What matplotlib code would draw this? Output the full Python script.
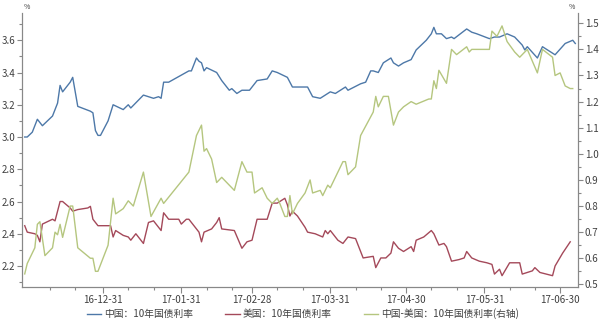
import matplotlib
matplotlib.use("Agg")
import matplotlib.pyplot as plt
import matplotlib.dates as mdates
import pandas as pd

plt.rcParams['font.family'] = ['Noto Sans CJK SC', 'DejaVu Sans']

# 中国：10年国债利率
cn_dates = ["2016-11-30", "2016-12-01", "2016-12-03", "2016-12-05", "2016-12-07", "2016-12-11",
            "2016-12-13", "2016-12-14", "2016-12-15", "2016-12-18", "2016-12-19", "2016-12-21",
            "2016-12-26", "2016-12-27", "2016-12-28", "2016-12-29", "2016-12-30", "2017-01-02",
            "2017-01-04", "2017-01-08", "2017-01-10", "2017-01-11", "2017-01-16", "2017-01-20",
            "2017-01-22", "2017-01-23", "2017-01-24", "2017-01-26", "2017-02-03", "2017-02-04",
            "2017-02-06", "2017-02-07", "2017-02-08", "2017-02-09", "2017-02-10", "2017-02-14",
            "2017-02-16", "2017-02-19", "2017-02-20", "2017-02-22", "2017-02-24", "2017-02-27",
            "2017-03-02", "2017-03-06", "2017-03-08", "2017-03-10", "2017-03-14", "2017-03-16",
            "2017-03-22", "2017-03-24", "2017-03-27", "2017-03-31", "2017-04-02", "2017-04-06",
            "2017-04-07", "2017-04-12", "2017-04-14", "2017-04-16", "2017-04-17", "2017-04-19",
            "2017-04-21", "2017-04-24", "2017-04-25", "2017-04-27", "2017-04-29", "2017-05-02",
            "2017-05-04", "2017-05-08", "2017-05-10", "2017-05-11", "2017-05-12", "2017-05-14",
            "2017-05-16", "2017-05-18", "2017-05-19", "2017-05-24", "2017-05-26", "2017-05-28",
            "2017-06-02", "2017-06-04", "2017-06-06", "2017-06-09", "2017-06-12", "2017-06-15",
            "2017-06-16", "2017-06-17", "2017-06-21", "2017-06-23", "2017-06-28", "2017-07-02",
            "2017-07-05", "2017-07-06"]
cn_rate = [3.00, 3.00, 3.03, 3.11, 3.07, 3.13,
           3.21, 3.32, 3.28, 3.34, 3.37, 3.19,
           3.16, 3.15, 3.04, 3.01, 3.01, 3.10,
           3.20, 3.17, 3.20, 3.18, 3.26, 3.24,
           3.25, 3.24, 3.34, 3.34, 3.41, 3.41,
           3.49, 3.47, 3.46, 3.41, 3.43, 3.40,
           3.35, 3.29, 3.30, 3.27, 3.29, 3.29,
           3.35, 3.36, 3.41, 3.40, 3.37, 3.31,
           3.31, 3.25, 3.24, 3.28, 3.27, 3.31,
           3.29, 3.33, 3.34, 3.41, 3.41, 3.40,
           3.46, 3.49, 3.46, 3.44, 3.46, 3.48,
           3.54, 3.60, 3.64, 3.68, 3.64, 3.64,
           3.61, 3.62, 3.61, 3.67, 3.65, 3.64,
           3.61, 3.62, 3.62, 3.64, 3.62, 3.57,
           3.54, 3.56, 3.49, 3.56, 3.51, 3.58,
           3.60, 3.58]

# 美国：10年国债利率
us_dates = ["2016-11-30", "2016-12-01", "2016-12-04", "2016-12-05", "2016-12-06", "2016-12-07",
            "2016-12-11", "2016-12-12", "2016-12-14", "2016-12-15", "2016-12-18", "2016-12-19",
            "2016-12-21", "2016-12-25", "2016-12-26", "2016-12-27", "2016-12-29", "2017-01-02",
            "2017-01-03", "2017-01-04", "2017-01-05", "2017-01-08", "2017-01-10", "2017-01-11",
            "2017-01-13", "2017-01-16", "2017-01-18", "2017-01-20", "2017-01-23", "2017-01-24",
            "2017-01-26", "2017-01-30", "2017-01-31", "2017-02-02", "2017-02-03", "2017-02-05",
            "2017-02-07", "2017-02-08", "2017-02-09", "2017-02-12", "2017-02-14", "2017-02-15",
            "2017-02-16", "2017-02-21", "2017-02-24", "2017-02-26", "2017-02-28", "2017-03-02",
            "2017-03-06", "2017-03-08", "2017-03-10", "2017-03-13", "2017-03-14", "2017-03-15",
            "2017-03-16", "2017-03-18", "2017-03-21", "2017-03-22", "2017-03-25", "2017-03-28",
            "2017-03-29", "2017-03-30", "2017-03-31", "2017-04-03", "2017-04-05", "2017-04-07",
            "2017-04-10", "2017-04-13", "2017-04-17", "2017-04-18", "2017-04-20", "2017-04-22",
            "2017-04-24", "2017-04-25", "2017-04-27", "2017-04-29", "2017-05-02", "2017-05-03",
            "2017-05-04", "2017-05-07", "2017-05-10", "2017-05-11", "2017-05-13", "2017-05-15",
            "2017-05-16", "2017-05-18", "2017-05-21", "2017-05-23", "2017-05-24", "2017-05-26",
            "2017-05-29", "2017-06-01", "2017-06-03", "2017-06-04", "2017-06-06", "2017-06-07",
            "2017-06-10", "2017-06-14", "2017-06-15", "2017-06-19", "2017-06-20", "2017-06-22",
            "2017-06-27", "2017-06-28", "2017-07-01", "2017-07-04"]
us_rate = [2.45, 2.41, 2.40, 2.39, 2.35, 2.46,
           2.49, 2.48, 2.60, 2.60, 2.56, 2.54,
           2.55, 2.56, 2.57, 2.49, 2.45, 2.45,
           2.45, 2.38, 2.42, 2.39, 2.38, 2.36,
           2.40, 2.34, 2.47, 2.48, 2.42, 2.53,
           2.49, 2.49, 2.46, 2.49, 2.49, 2.45,
           2.41, 2.35, 2.41, 2.43, 2.47, 2.50,
           2.43, 2.42, 2.31, 2.35, 2.36, 2.49,
           2.49, 2.59, 2.59, 2.62, 2.58, 2.51,
           2.54, 2.51, 2.44, 2.41, 2.40, 2.38,
           2.42, 2.40, 2.42, 2.36, 2.34, 2.38,
           2.37, 2.25, 2.26, 2.19, 2.25, 2.25,
           2.28, 2.35, 2.31, 2.29, 2.32, 2.29,
           2.36, 2.38, 2.42, 2.40, 2.33, 2.34,
           2.32, 2.23, 2.24, 2.25, 2.29, 2.25,
           2.23, 2.22, 2.21, 2.15, 2.18, 2.14,
           2.22, 2.22, 2.15, 2.17, 2.19, 2.16,
           2.14, 2.20, 2.28, 2.35]

# 中国-美国：10年国债利率(右轴)
sp_dates = ["2016-11-30", "2016-12-01", "2016-12-03", "2016-12-04", "2016-12-05", "2016-12-06",
            "2016-12-08", "2016-12-11", "2016-12-12", "2016-12-13", "2016-12-14", "2016-12-15",
            "2016-12-18", "2016-12-19", "2016-12-21", "2016-12-26", "2016-12-27", "2016-12-28",
            "2016-12-29", "2017-01-02", "2017-01-04", "2017-01-05", "2017-01-08", "2017-01-10",
            "2017-01-12", "2017-01-16", "2017-01-19", "2017-01-23", "2017-01-24", "2017-02-03",
            "2017-02-06", "2017-02-08", "2017-02-09", "2017-02-10", "2017-02-12", "2017-02-14",
            "2017-02-16", "2017-02-21", "2017-02-24", "2017-02-26", "2017-02-28", "2017-03-01",
            "2017-03-04", "2017-03-06", "2017-03-08", "2017-03-10", "2017-03-11", "2017-03-13",
            "2017-03-14", "2017-03-15", "2017-03-16", "2017-03-18", "2017-03-21", "2017-03-23",
            "2017-03-24", "2017-03-27", "2017-03-28", "2017-03-30", "2017-03-31", "2017-04-05",
            "2017-04-06", "2017-04-07", "2017-04-10", "2017-04-12", "2017-04-17", "2017-04-18",
            "2017-04-19", "2017-04-21", "2017-04-23", "2017-04-25", "2017-04-27", "2017-04-29",
            "2017-05-02", "2017-05-04", "2017-05-09", "2017-05-10", "2017-05-11", "2017-05-12",
            "2017-05-13", "2017-05-16", "2017-05-18", "2017-05-20", "2017-05-24", "2017-05-25",
            "2017-05-26", "2017-06-02", "2017-06-03", "2017-06-05", "2017-06-07", "2017-06-09",
            "2017-06-12", "2017-06-14", "2017-06-17", "2017-06-21", "2017-06-23", "2017-06-27",
            "2017-06-28", "2017-06-30", "2017-07-02", "2017-07-04", "2017-07-05"]
spread = [0.54, 0.58, 0.62, 0.64, 0.73, 0.74,
          0.61, 0.64, 0.70, 0.69, 0.73, 0.68,
          0.80, 0.80, 0.64, 0.60, 0.60, 0.55,
          0.55, 0.65, 0.83, 0.77, 0.79, 0.82,
          0.80, 0.93, 0.76, 0.83, 0.81, 0.93,
          1.07, 1.11, 1.01, 1.02, 0.98, 0.89,
          0.91, 0.86, 0.97, 0.93, 0.93, 0.85,
          0.87, 0.83, 0.81, 0.83, 0.81, 0.76,
          0.76, 0.84, 0.77, 0.81, 0.85, 0.90,
          0.85, 0.86, 0.84, 0.88, 0.87, 0.97,
          0.97, 0.92, 0.95, 1.07, 1.16, 1.22,
          1.18, 1.22, 1.22, 1.11, 1.16, 1.18,
          1.20, 1.19, 1.21, 1.21, 1.28, 1.25,
          1.32, 1.27, 1.40, 1.38, 1.41, 1.39,
          1.40, 1.40, 1.47, 1.45, 1.49, 1.43,
          1.39, 1.37, 1.40, 1.31, 1.40, 1.37,
          1.30, 1.31, 1.26, 1.25, 1.25]

tick_dates = ["2016-12-31", "2017-01-31", "2017-02-28", "2017-03-31",
              "2017-04-30", "2017-05-31", "2017-06-30"]
labels = ["中国：10年国债利率", "美国：10年国债利率", "中国-美国：10年国债利率(右轴)"]

c_cn = "#4d78a8"
c_us = "#a4495a"
c_sp = "#b5c67f"
c_axis = "#888888"
c_text = "#404040"

fig = plt.figure(figsize=(6.0, 3.21), dpi=100)
ax = fig.add_axes([0.037, 0.106, 0.926, 0.854])
ax2 = ax.twinx()

l1, = ax.plot(pd.to_datetime(cn_dates), cn_rate, color=c_cn, lw=1.0)
l2, = ax.plot(pd.to_datetime(us_dates), us_rate, color=c_us, lw=1.0)
l3, = ax2.plot(pd.to_datetime(sp_dates), spread, color=c_sp, lw=1.0)

ax.set_xlim(pd.Timestamp("2016-11-29"), pd.Timestamp("2017-07-07"))
ax.set_ylim(2.07, 3.77)
ax2.set_ylim(0.49, 1.54)

ax.set_yticks([2.2, 2.4, 2.6, 2.8, 3.0, 3.2, 3.4, 3.6])
ax.set_yticks([2.1, 2.3, 2.5, 2.7, 2.9, 3.1, 3.3, 3.5, 3.7], minor=True)
ax.yaxis.set_major_formatter(plt.FormatStrFormatter("%.1f"))
ax2.set_yticks([0.5, 0.6, 0.7, 0.8, 0.9, 1.0, 1.1, 1.2, 1.3, 1.4, 1.5])
ax2.set_yticks([0.55, 0.65, 0.75, 0.85, 0.95, 1.05, 1.15, 1.25, 1.35, 1.45], minor=True)
ax2.yaxis.set_major_formatter(plt.FormatStrFormatter("%.1f"))

ax.set_xticks(pd.to_datetime(tick_dates))
ax.xaxis.set_major_formatter(mdates.DateFormatter("%y-%m-%d"))
ax.xaxis.set_minor_locator(mdates.DayLocator(bymonthday=[10, 20]))

for a in (ax, ax2):
    for s in a.spines.values():
        s.set_color(c_axis)
        s.set_linewidth(0.8)
    a.spines["top"].set_visible(False)
    a.tick_params(which="both", colors=c_axis, labelcolor=c_text, labelsize=7, width=0.8)
    a.tick_params(which="major", length=3.5, pad=1.5)
    a.tick_params(which="minor", length=2)
ax.tick_params(axis="x", which="major", length=4, pad=2)

fig.text(0.040, 0.965, "%", fontsize=5, color=c_text, ha="left", va="bottom")
fig.text(0.958, 0.965, "%", fontsize=5, color=c_text, ha="right", va="bottom")

fig.legend([l1, l2, l3], labels, loc="center", bbox_to_anchor=(0.505, 0.022),
           ncol=3, frameon=False, fontsize=7, handlelength=1.5, columnspacing=3.3,
           handletextpad=0.3, labelcolor=c_text, borderpad=0.1)

fig.savefig("out.png", dpi=100)
